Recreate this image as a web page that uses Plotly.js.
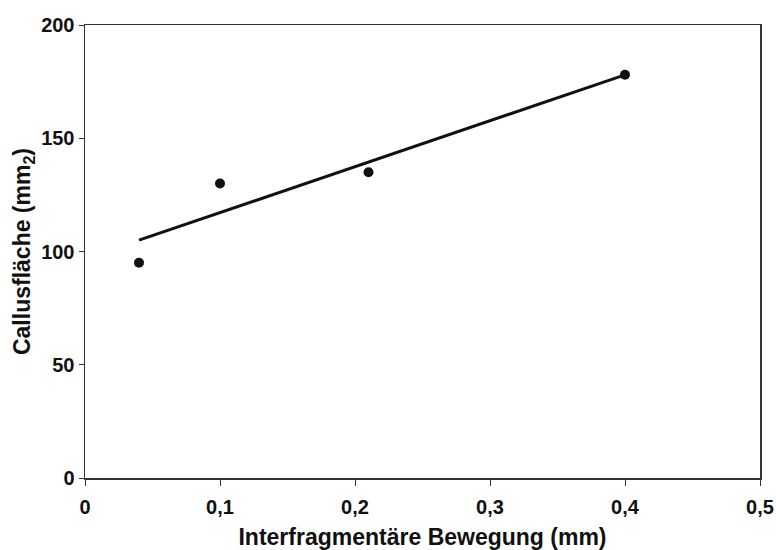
<!DOCTYPE html>
<html>
<head>
<meta charset="utf-8">
<script src="https://cdn.plot.ly/plotly-3.0.1.min.js"></script>
<style>html,body{margin:0;padding:0;background:#fff;}#chart{width:776px;height:550px;}</style>
</head>
<body>
<div id="chart"></div>
<script>
// Data
const movement = [0.04, 0.1, 0.21, 0.4];        // Interfragmentäre Bewegung (mm)
const callusArea = [95, 130, 135, 178];          // Callusfläche (mm2)
const fitX = [0.04, 0.4];                        // regression line ends
const fitY = [105, 178];
const xTickVals = [0, 0.1, 0.2, 0.3, 0.4, 0.5];
const xTickText = ['0', '0,1', '0,2', '0,3', '0,4', '0,5'];
const yTickVals = [0, 50, 100, 150, 200];

const fam = 'Liberation Sans, Arial, sans-serif';
const tickFont = {family: fam, size: 20, color: '#111', weight: 'bold'};
const titleFont = {family: fam, size: 23, color: '#111', weight: 'bold'};

const traces = [
  {x: fitX, y: fitY, mode: 'lines', line: {color: '#111', width: 3}, hoverinfo: 'skip'},
  {x: movement, y: callusArea, mode: 'markers', marker: {color: '#111', size: 10}}
];

const layout = {
  width: 776, height: 550,
  margin: {l: 85, r: 16, t: 25, b: 72},
  paper_bgcolor: '#fff', plot_bgcolor: '#fff',
  showlegend: false,
  font: tickFont,
  xaxis: {
    range: [0, 0.5], tickvals: xTickVals, ticktext: xTickText,
    showgrid: false, zeroline: false, automargin: false,
    showline: true, linecolor: '#333', linewidth: 1.5, mirror: true,
    ticks: 'outside', ticklen: 6, tickcolor: '#333', ticklabelstandoff: 4,
    tickfont: tickFont,
    title: {text: 'Interfragmentäre Bewegung (mm)', font: titleFont, standoff: 12}
  },
  yaxis: {
    range: [0, 200], tickvals: yTickVals,
    showgrid: false, zeroline: false, automargin: false,
    showline: true, linecolor: '#333', linewidth: 1.5, mirror: true,
    ticks: 'outside', ticklen: 5, tickcolor: '#333',
    tickfont: tickFont,
    title: {text: 'Callusfläche (mm<sub>2</sub>)', font: titleFont, standoff: 4}
  }
};

Plotly.newPlot('chart', traces, layout, {displayModeBar: false, staticPlot: true});
</script>
</body>
</html>
